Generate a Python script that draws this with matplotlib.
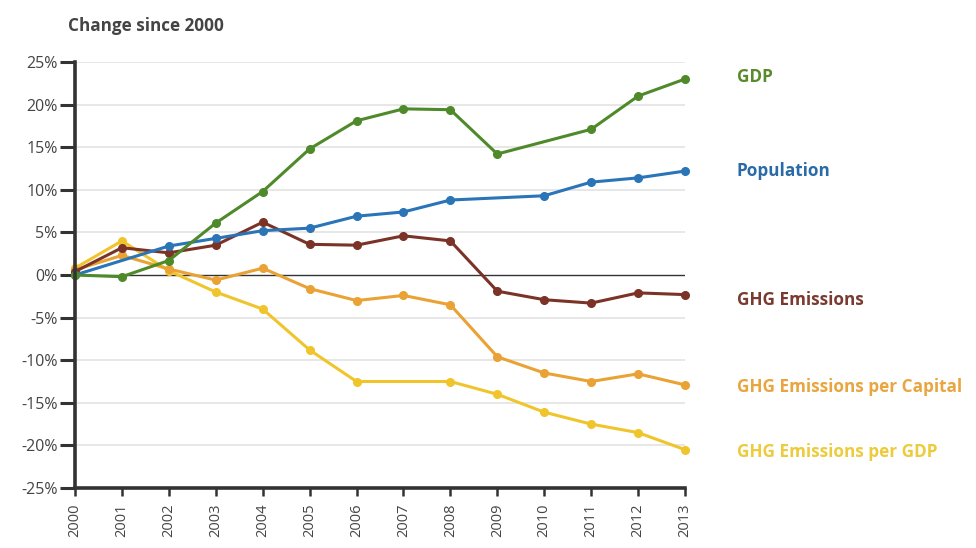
import matplotlib.pyplot as plt
import numpy as np

plt.rcParams['font.family'] = ['Open Sans', 'DejaVu Sans']

# Percent change since 2000 for each series (years without a point are skipped)
gdp_years = [2000, 2001, 2002, 2003, 2004, 2005, 2006, 2007, 2008, 2009, 2011, 2012, 2013]
gdp = [0.0, -0.2, 1.7, 6.1, 9.8, 14.8, 18.1, 19.5, 19.4, 14.2, 17.1, 21.0, 23.0]

pop_years = [2000, 2002, 2003, 2004, 2005, 2006, 2007, 2008, 2010, 2011, 2012, 2013]
population = [0.0, 3.4, 4.3, 5.2, 5.5, 6.9, 7.4, 8.8, 9.3, 10.9, 11.4, 12.2]

ghg_years = list(range(2000, 2014))
ghg = [0.4, 3.2, 2.6, 3.5, 6.2, 3.6, 3.5, 4.6, 4.0, -1.9, -2.9, -3.3, -2.1, -2.3]

cap_years = list(range(2000, 2014))
ghg_per_capita = [0.6, 2.3, 0.7, -0.6, 0.8, -1.6, -3.0, -2.4, -3.5, -9.6, -11.5, -12.5, -11.6, -12.9]

gdp_int_years = [2000, 2001, 2002, 2003, 2004, 2005, 2006, 2008, 2009, 2010, 2011, 2012, 2013]
ghg_per_gdp = [0.8, 4.0, 0.5, -2.0, -4.0, -8.8, -12.5, -12.5, -14.0, -16.1, -17.5, -18.5, -20.5]

# name, years, values, line colour, label colour, label height
series = [
    ('GHG Emissions per GDP', gdp_int_years, ghg_per_gdp, '#f0c52c', '#eccb3c', -20.8),
    ('GHG Emissions per Capital', cap_years, ghg_per_capita, '#e9a233', '#e8a540', -13.1),
    ('GHG Emissions', ghg_years, ghg, '#7a3326', '#7a3a30', -2.9),
    ('Population', pop_years, population, '#2a74b8', '#2a6aa6', 12.2),
    ('GDP', gdp_years, gdp, '#4f8a2a', '#5a8a2e', 23.2),
]

fig = plt.figure(figsize=(9.76, 5.48), dpi=100)
ax = fig.add_axes([75 / 976, 1 - 488 / 548, 610 / 976, 426 / 548])

for y in np.arange(-20, 30, 5):
    if y != 0:
        ax.axhline(y, color='#e3e3e3', lw=1.2, zorder=0)
ax.axhline(0, color='#333333', lw=1.0, zorder=1)

for name, yrs, vals, col, txtcol, ly in series:
    ax.plot(yrs, vals, color=col, lw=2.2, marker='o', ms=5.5, clip_on=False, zorder=3)
    ax.text(2014.1, ly, name, color=txtcol, fontsize=12.3, fontweight='bold',
            va='center', ha='left')

ax.set_xlim(2000, 2013)
ax.set_ylim(-25, 25)
ax.set_xticks(range(2000, 2014))
ax.set_xticklabels([str(y) for y in range(2000, 2014)], rotation=90)
ax.set_yticks(np.arange(-25, 30, 5))
ax.set_yticklabels([f'{y}%' for y in range(-25, 30, 5)])

for side in ['top', 'right']:
    ax.spines[side].set_visible(False)
for side in ['left', 'bottom']:
    ax.spines[side].set_color('#333333')
    ax.spines[side].set_linewidth(2.6)
    ax.spines[side].set_zorder(5)

ax.tick_params(axis='y', length=10.5, width=2.2, color='#333333', labelcolor='#444444',
               labelsize=11.5, pad=2)
ax.tick_params(axis='x', length=6, width=1.8, color='#333333', labelcolor='#444444',
               labelsize=10.5, pad=5)

fig.text(68 / 976, 1 - 26 / 548, 'Change since 2000', fontsize=12.3, fontweight='bold',
         color='#444444', va='center', ha='left')

fig.savefig('out.png', dpi=100)
